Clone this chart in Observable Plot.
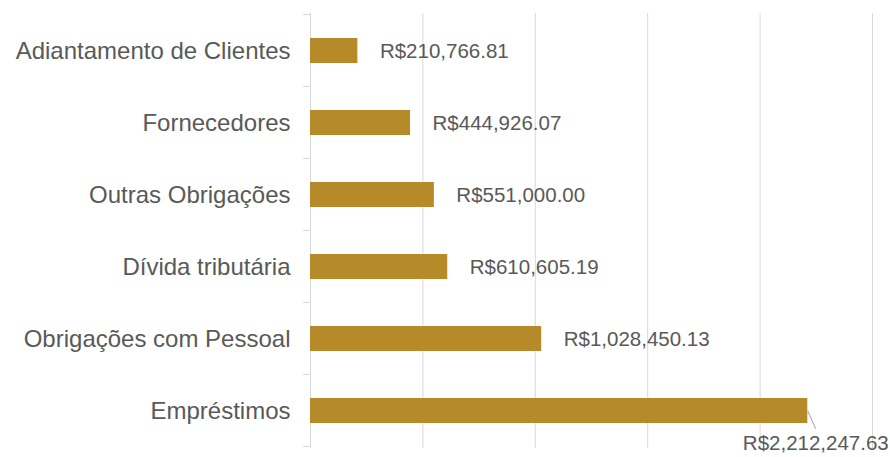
<!DOCTYPE html>
<html><head><meta charset="utf-8">
<script src="https://cdn.jsdelivr.net/npm/d3@7"></script>
<script src="https://cdn.jsdelivr.net/npm/@observablehq/plot@0.6"></script>
<style>body{margin:0;background:#fff} svg{font-family:"Liberation Sans",Arial,sans-serif}</style>
</head><body><div id="chart"></div>
<script>
const categories = ["Adiantamento de Clientes", "Fornecedores", "Outras Obrigações", "Dívida tributária", "Obrigações com Pessoal", "Empréstimos"];
const values = [210766.81, 444926.07, 551000.00, 610605.19, 1028450.13, 2212247.63];
const xTicks = [0, 500000, 1000000, 1500000, 2000000, 2500000];

const data = categories.map((c, i) => ({cat: c, value: values[i]}));
const maxV = d3.max(values);
const small = data.filter(d => d.value !== maxV);
const big = data.filter(d => d.value === maxV);
const fmt = v => "R$" + d3.format(",.2f")(v);
const font = '"Liberation Sans", Arial, sans-serif';

const plot = Plot.plot({
  width: 890, height: 457,
  marginLeft: 310, marginRight: 18, marginTop: 13, marginBottom: 9,
  style: {fontFamily: font, background: "white"},
  x: {domain: [0, 2500000], axis: null},
  y: {domain: categories, paddingInner: 0.655, paddingOuter: 0.3275, axis: null},
  marks: [
    Plot.gridX(xTicks, {stroke: "#d9d9d9", strokeOpacity: 1, strokeWidth: 1}),
    Plot.axisY({tickSize: 0, tickPadding: 20, fontSize: 24, fill: "#595959", label: null}),
    Plot.barX(data, {x: "value", y: "cat", fill: "#B68A28"}),
    Plot.text(small, {x: "value", y: "cat", text: d => fmt(d.value), dx: 22, textAnchor: "start", fontSize: 20.5, fill: "#595959"}),
    Plot.text(big, {x: "value", y: "cat", text: d => fmt(d.value), dx: 8, dy: 32, textAnchor: "middle", fontSize: 20.5, fill: "#595959"}),
    Plot.vector(big, {x: "value", y: "cat", length: 19, rotate: 156, anchor: "start", stroke: "#a6a6a6", strokeWidth: 1,
      shape: {draw(ctx, l) { ctx.moveTo(0, 0); ctx.lineTo(0, -l); }}})
  ]
});

// category boundary ticks on the left axis
const ys = plot.scale("y");
const xs = plot.scale("x");
const x0 = xs.apply(0);
const bounds = categories.map(c => ys.apply(c) - (ys.step - ys.bandwidth) / 2);
bounds.push(bounds[bounds.length - 1] + ys.step);
d3.select(plot).append("g").selectAll("line").data(bounds).join("line")
  .attr("x1", x0 - 7).attr("x2", x0).attr("y1", d => d).attr("y2", d => d)
  .attr("stroke", "#d9d9d9").attr("stroke-width", 1);

document.getElementById("chart").append(plot);
</script>
</body></html>
